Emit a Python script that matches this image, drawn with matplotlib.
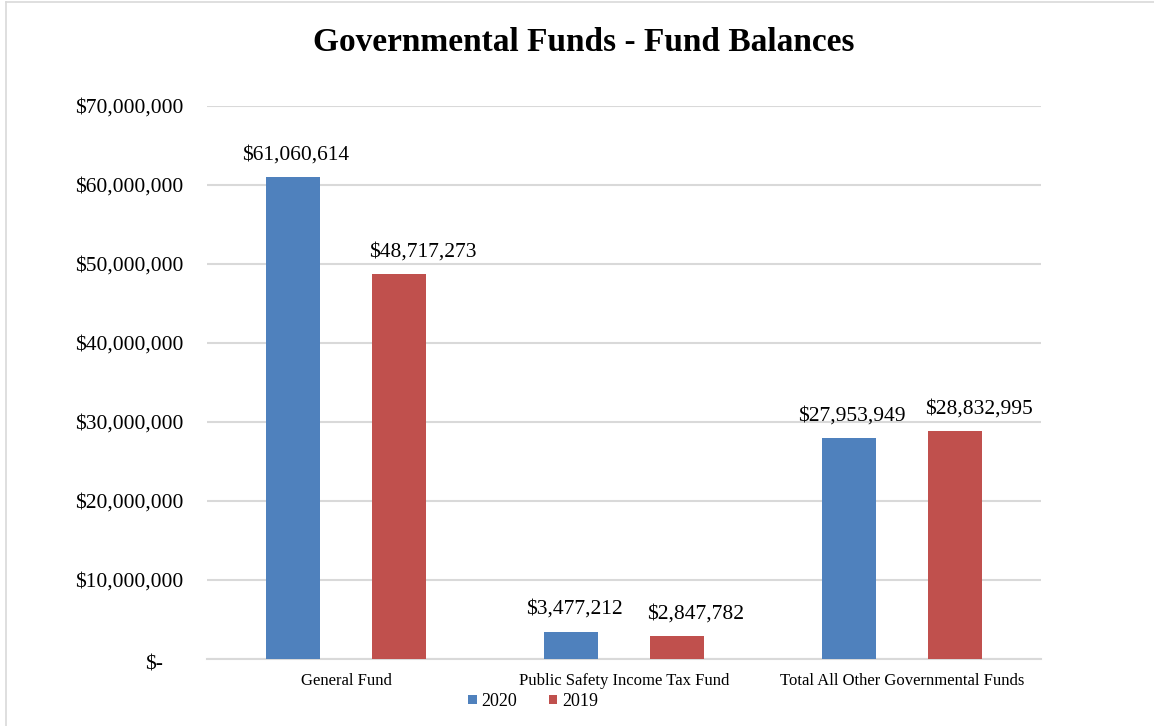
import matplotlib
matplotlib.use("Agg")
import matplotlib.pyplot as plt
from matplotlib.lines import Line2D
from matplotlib.patches import Patch
from matplotlib.transforms import ScaledTranslation
import numpy as np

categories = ["General Fund", "Public Safety Income Tax Fund",
              "Total All Other Governmental Funds"]
series_names = ["2020", "2019"]
values_2020 = [61060614, 3477212, 27953949]
values_2019 = [48717273, 2847782, 28832995]
ytick_values = [0, 10000000, 20000000, 30000000, 40000000, 50000000, 60000000, 70000000]

BLUE = "#4F81BD"
RED = "#C0504D"
GRID = "#D9D9D9"
SERIF = ["Liberation Serif", "DejaVu Serif"]

plt.rcParams["font.family"] = SERIF

fig = plt.figure(figsize=(11.54, 7.26), dpi=100)
ax = fig.add_axes([0.1794, 0.0923, 0.7226, 0.7617])

x = np.arange(len(categories))
off, w = 0.19, 0.195
# blue labels sit centred on the bar, red ones start near the bar's left edge (as Excel drew them)
for vals, dx, col, ha in [(values_2020, -off, BLUE, "center"),
                          (values_2019, off, RED, "left")]:
    bars = ax.bar(x + dx, vals, width=w, color=col, zorder=3)
    for b, v in zip(bars, vals):
        if ha == "center":
            xa, xo = b.get_x() + b.get_width() / 2, 2
        else:
            xa, xo = b.get_x(), -2
        ax.annotate(f"${v:,.0f}", (xa, v), xytext=(xo, 9),
                    textcoords="offset points", ha=ha, va="bottom",
                    fontsize=15.5, color="#000000")

ax.set_xlim(-0.5, len(categories) - 0.5)
ax.set_ylim(0, 70000000)
ax.set_yticks(ytick_values)
ax.set_yticklabels(["$-" if v == 0 else f"${v:,.0f}" for v in ytick_values])
ax.tick_params(axis="y", length=0, labelsize=15.5, pad=17)
ax.set_xticks(x)
ax.set_xticklabels(categories)
ax.tick_params(axis="x", length=0, labelsize=12, pad=10)
zero_lbl = ax.get_yticklabels()[0]
zero_lbl.set_transform(zero_lbl.get_transform()
                       + ScaledTranslation(-0.2, -0.04, fig.dpi_scale_trans))
ax.grid(axis="y", color=GRID, linewidth=1.5, zorder=0)
for s in ["top", "right", "left"]:
    ax.spines[s].set_visible(False)
ax.spines["bottom"].set_color(GRID)
ax.spines["bottom"].set_linewidth(1.5)

fig.text(0.506, 0.941, "Governmental Funds - Fund Balances", ha="center",
         va="center", fontsize=24, fontweight="bold")

handles = [Patch(facecolor=BLUE), Patch(facecolor=RED)]
fig.legend(handles, series_names, loc="center", bbox_to_anchor=(0.462, 0.034),
           ncol=2, frameon=False, fontsize=13, handlelength=0.45,
           handleheight=0.45, handletextpad=0.25, columnspacing=1.8)

# light outer border
fig.add_artist(Line2D([6 / 1154, 6 / 1154], [0, 1 - 2 / 726], color=GRID,
                      linewidth=1.2, transform=fig.transFigure))
fig.add_artist(Line2D([6 / 1154, 1], [1 - 2 / 726, 1 - 2 / 726], color=GRID,
                      linewidth=1.2, transform=fig.transFigure))

fig.savefig("out.png", dpi=100, facecolor="white")
